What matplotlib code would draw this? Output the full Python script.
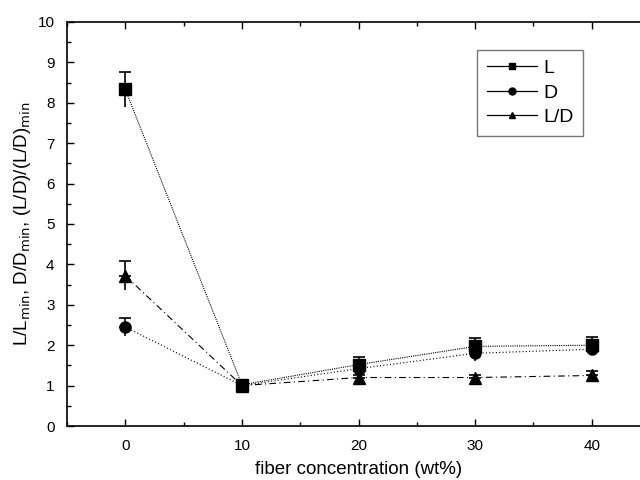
import matplotlib.pyplot as plt
from matplotlib.lines import Line2D
from matplotlib.ticker import MultipleLocator

plt.rcParams['font.family'] = ['Liberation Sans', 'DejaVu Sans']

conc = [0, 10, 20, 30, 40]
L = [8.33, 1.02, 1.52, 1.97, 2.0]
L_err = [0.43, 0.08, 0.2, 0.2, 0.2]
D = [2.45, 1.0, 1.42, 1.8, 1.9]
D_err = [0.22, 0.06, 0.15, 0.18, 0.15]
LD = [3.72, 1.0, 1.2, 1.2, 1.25]
LD_err = [0.36, 0.05, 0.05, 0.05, 0.1]

series = [
    ('L', L, L_err, 's', (0, (1, 1))),
    ('D', D, D_err, 'o', (0, (1, 2))),
    ('L/D', LD, LD_err, '^', (0, (6, 3, 1, 3))),
]

fig = plt.figure(figsize=(6.4, 4.8), dpi=100)
ax = fig.add_axes([0.1047, 0.1125, 0.911, 0.8417])

handles = []
for name, y, err, m, ls in series:
    ax.plot(conc, y, color='black', lw=0.8, ls=ls, zorder=2)
    # upper error with cap, lower without
    ax.errorbar(conc, y, yerr=[[0] * 5, err], fmt='none', ecolor='black',
                elinewidth=1.2, capsize=4, capthick=1.2, zorder=3)
    ax.errorbar(conc, y, yerr=[err, [0] * 5], fmt='none', ecolor='black',
                elinewidth=1.2, capsize=0, zorder=3)
    ax.plot(conc, y, ls='none', marker=m, color='black', ms=8, zorder=4)
    handles.append(Line2D([], [], color='black', lw=0.9, ls='-', marker=m,
                          ms=5, label=name))

ax.set_xlim(-5, 45)
ax.set_ylim(0, 10)
ax.xaxis.set_major_locator(MultipleLocator(10))
ax.xaxis.set_minor_locator(MultipleLocator(5))
ax.yaxis.set_major_locator(MultipleLocator(1))
ax.yaxis.set_minor_locator(MultipleLocator(0.5))
ax.tick_params(which='both', direction='in', top=True, right=True,
               labelsize=11, width=1)
ax.tick_params(which='major', length=5, pad=9)
ax.tick_params(which='minor', length=3)
for s in ax.spines.values():
    s.set_linewidth(1.2)

ax.set_xlabel('fiber concentration (wt%)', fontsize=13.5, labelpad=6)
ax.set_ylabel(r'L/L$_{\rm min}$, D/D$_{\rm min}$, (L/D)/(L/D)$_{\rm min}$',
              fontsize=13.5, labelpad=3)

leg = ax.legend(handles=handles, loc='upper right',
                bbox_to_anchor=(0.885, 0.931), borderaxespad=0, fontsize=14,
                frameon=True, fancybox=False, edgecolor='#555555',
                handlelength=2.6, handletextpad=0.3, labelspacing=0.35,
                borderpad=0.5)
leg.get_frame().set_linewidth(1.0)

fig.savefig('out.png', dpi=100)
